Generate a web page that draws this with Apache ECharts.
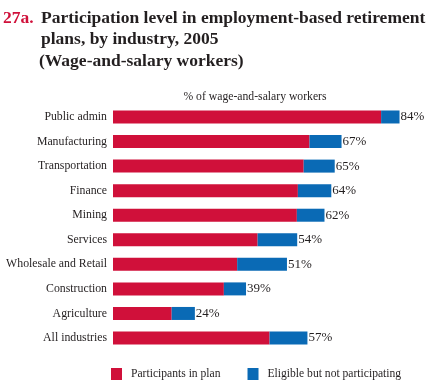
<!DOCTYPE html>
<html><head><meta charset="utf-8">
<script src="https://cdn.jsdelivr.net/npm/echarts@6/dist/echarts.min.js"></script>
<style>html,body{margin:0;padding:0;background:#fff}#c{width:435px;height:390px}</style>
</head><body><div id="c"></div>
<script>
const categories = ["Public admin","Manufacturing","Transportation","Finance","Mining","Services","Wholesale and Retail","Construction","Agriculture","All industries"];
const participants = [78.6, 57.6, 55.9, 54.2, 53.9, 42.4, 36.4, 32.5, 17.2, 45.9];
const totals = [84, 67, 65, 64, 62, 54, 51, 39, 24, 57];
const eligibleNotParticipating = totals.map((t, i) => +(t - participants[i]).toFixed(1));

const serif = '"Liberation Serif","Times New Roman",serif';
const ink = '#231f20';
const chart = echarts.init(document.getElementById('c'));
chart.setOption({
  animation: false,
  grid: {left: 113, right: 15, top: 104.7, bottom: 39.7},
  xAxis: {type: 'value', min: 0, max: 90, show: false},
  yAxis: {type: 'category', data: categories, inverse: true,
    axisLine: {show: false}, axisTick: {show: false}, splitLine: {show: false},
    axisLabel: {fontFamily: serif, fontSize: 11.8, color: ink, margin: 6}},
  legend: {left: 111, top: 368, padding: 0, itemWidth: 11, itemHeight: 12, itemGap: 27,
    icon: 'rect', textStyle: {fontFamily: serif, fontSize: 11.6, color: ink, padding: [0,0,0,4]},
    data: ['Participants in plan', 'Eligible but not participating']},
  graphic: [
    {type: 'text', x: 3, y: 18, style: {text: '27a.', font: 'bold 17.5px ' + serif, fill: '#d0103a', textVerticalAlign: 'middle'}},
    {type: 'text', x: 41, y: 18, style: {text: 'Participation level in employment-based retirement', font: 'bold 17.5px ' + serif, fill: ink, textVerticalAlign: 'middle'}},
    {type: 'text', x: 41, y: 39, style: {text: 'plans, by industry, 2005', font: 'bold 17.5px ' + serif, fill: ink, textVerticalAlign: 'middle'}},
    {type: 'text', x: 39, y: 61.5, style: {text: '(Wage-and-salary workers)', font: 'bold 17.5px ' + serif, fill: ink, textVerticalAlign: 'middle'}},
    {type: 'text', x: 255, y: 97, style: {text: '% of wage-and-salary workers', font: '11.7px ' + serif, fill: ink, textAlign: 'center', textVerticalAlign: 'middle'}}
  ],
  series: [
    {name: 'Participants in plan', type: 'bar', stack: 'a', barWidth: 13, data: participants,
      itemStyle: {color: '#d0103a'}},
    {name: 'Eligible but not participating', type: 'bar', stack: 'a', barWidth: 13, data: eligibleNotParticipating,
      itemStyle: {color: '#0a6ab5'},
      label: {show: true, position: 'right', distance: 1, fontFamily: serif, fontSize: 13, color: ink,
        formatter: p => totals[p.dataIndex] + '%'}}
  ]
});
</script></body></html>
